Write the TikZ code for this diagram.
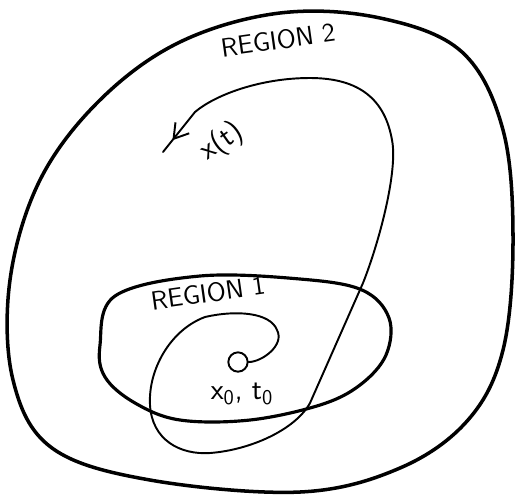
\documentclass[tikz,border=0pt]{standalone}
\usetikzlibrary{decorations.markings,arrows.meta}
\begin{document}
\begin{tikzpicture}[x=0.02cm,y=-0.02cm,
  boundary/.style={line width=2pt,line join=round},
  inner/.style={line width=1.8pt,line join=round},
  traj/.style={line width=1.1pt,line cap=round,line join=round},
  lbl/.style={font=\sffamily\fontsize{15}{18}\selectfont,inner sep=0pt}]
\useasboundingbox (0,0) rectangle (519,498);
% Region 2
\draw[boundary] plot[smooth cycle,tension=0.6] coordinates{
 (280,13) (380,18) (462,52) (503,130) (513,240) (503,350) (468,420)
 (400,468) (300,492) (150,480) (52,448) (13,380) (10,280) (40,180)
 (100,100) (180,42)};
% Region 1
\draw[inner] plot[smooth cycle,tension=0.6] coordinates{
 (200,276) (300,279) (362,290) (389,318) (386,355) (360,385)
 (320,405) (250,420) (180,420) (135,403) (105,377) (100,345) (115,296)};
% trajectory
\node[circle,draw,line width=1.1pt,minimum size=11pt,inner sep=0pt] (x0) at (238,362) {};
\draw[traj,decoration={markings,mark=at position 0.985 with {\arrow{Straight Barb[length=8pt,width=10pt,line width=1.1pt]}}},postaction={decorate}]
 (x0.east) .. controls (262,362) and (285,345) .. (277,330)
 .. controls (270,312) and (235,310) .. (205,317)
 .. controls (170,330) and (148,370) .. (150,405)
 .. controls (152,440) and (180,455) .. (210,453)
 .. controls (250,450) and (295,430) .. (310,403)
 -- (363,283)
 .. controls (380,240) and (398,170) .. (392,140)
 .. controls (385,100) and (360,78) .. (310,78)
 .. controls (260,78) and (215,95) .. (195,112)
 -- (163,152);
% labels
\node[lbl,rotate=8] (r2) at (278,40) {REGION 2};
\node[lbl,rotate=8] (r1) at (208,293) {REGION 1};
\node[lbl,rotate=35,font=\sffamily\fontsize{17}{20}\selectfont] (xt) at (222,142) {x(t)};
\node[lbl,font=\sffamily\fontsize{17}{20}\selectfont] (xl) at (242,394) {x\textsubscript{0}, t\textsubscript{0}};
\end{tikzpicture}
\end{document}
